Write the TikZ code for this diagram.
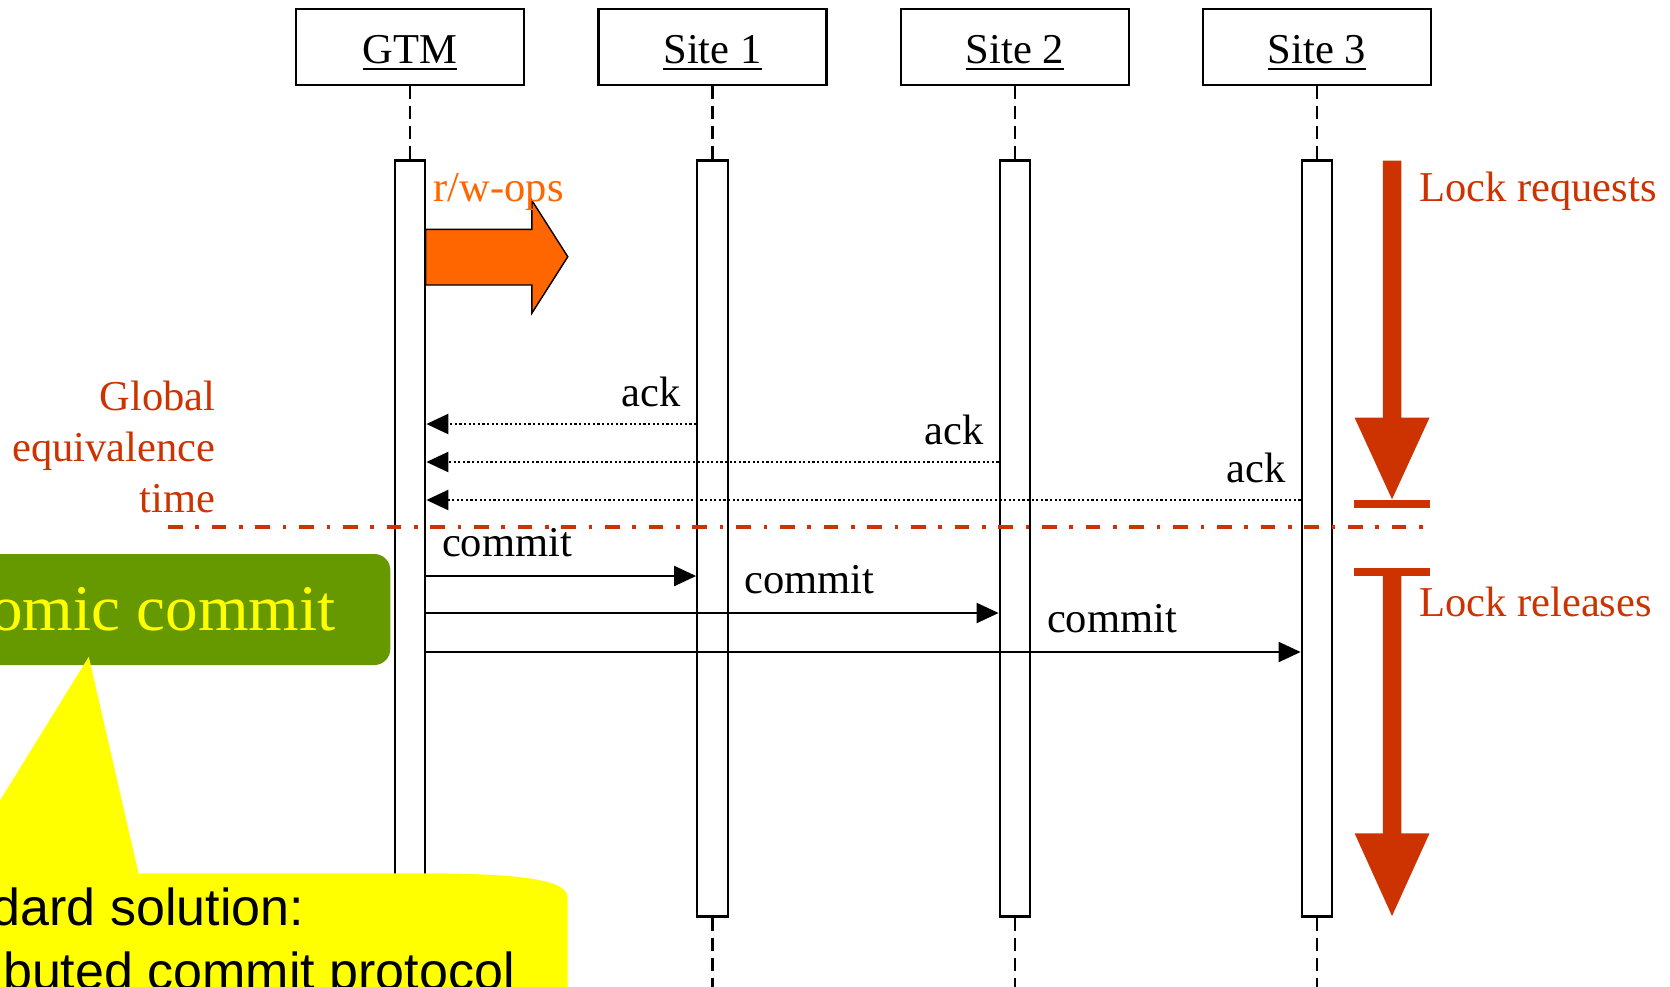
\documentclass[tikz,border=0pt]{standalone}
\usepackage{fontspec}
\setmainfont{Liberation Serif}
\setsansfont{Liberation Sans}
\usetikzlibrary{arrows.meta}
\definecolor{lockred}{HTML}{CC3300}
\definecolor{opsorange}{HTML}{FF6600}
\definecolor{commitgreen}{HTML}{669900}
\definecolor{noteyellow}{RGB}{255,255,0}
\tikzset{
  actor/.style={draw,line width=0.65pt,minimum width=22.8mm,minimum height=7.6mm,inner sep=0pt,text height=4.3mm,text depth=1mm},
  bar/.style={draw,fill=white,line width=0.65pt,minimum width=3.05mm,minimum height=75.6mm,inner sep=0pt},
  life/.style={line width=0.6pt,dash pattern=on 1.3mm off 0.7mm},
  ack/.style={line width=0.7pt,dash pattern=on 0.22mm off 0.24mm,-{Triangle[length=2.2mm,width=2mm]}},
  msg/.style={line width=0.6pt,-{Triangle[length=2.2mm,width=2mm]}},
  acklbl/.style={pos=0,anchor=base east,inner sep=0pt,xshift=-1.4mm,yshift=1.8mm},
  msglbl/.style={anchor=base west,inner sep=0pt,xshift=1.5mm,yshift=2mm},
  equiv/.style={lockred,line width=0.95pt,dash pattern=on 1.47mm off 1.27mm on 0.36mm off 1.27mm},
  lock/.style={fill=lockred},
  greenbox/.style={fill=commitgreen,rounded corners=1.6mm,text=noteyellow,font=\fontsize{18.5}{22}\selectfont,minimum height=11.1mm,inner xsep=5.5mm,inner ysep=0pt}
}
\begin{document}
\begin{tikzpicture}[x=0.1mm,y=-0.1mm,font=\fontsize{12.1}{14.5}\selectfont]
\useasboundingbox (0,0) rectangle (1670,986);
\clip (0,0) rectangle (1670,986);

\node(gtm) at (410,47)[actor]    {\underline{GTM}};
\node(s1) at (712.5,47)[actor]   {\underline{Site 1}};
\node(s2) at (1015,47)[actor]    {\underline{Site 2}};
\node(s3) at (1317,47)[actor]    {\underline{Site 3}};

\node(gbar) at (410,538.5)[bar]    {};
\node(s1bar) at (712.5,538.5)[bar] {};
\node(s2bar) at (1015,538.5)[bar]  {};
\node(s3bar) at (1317,538.5)[bar]  {};

\draw[life] (gtm) -- (gbar);
\draw[life] (s1) -- (s1bar);
\draw[life] (s2) -- (s2bar);
\draw[life] (s3) -- (s3bar);
\draw[life] (gbar) -- (gbar.south |- 0,990);
\draw[life] (s1bar) -- (s1bar.south |- 0,990);
\draw[life] (s2bar) -- (s2bar.south |- 0,990);
\draw[life] (s3bar) -- (s3bar.south |- 0,990);

% r/w operations
\filldraw[fill=opsorange,draw=black,line width=0.4pt]
  (425.6,229.3) -- (531.8,229.3) -- (531.8,200.3) -- (567.8,256.7)
  -- (531.8,313.3) -- (531.8,285) -- (425.6,285) -- cycle;
\node(rw) at (433,201.7)[anchor=base west,inner sep=0pt,text=opsorange] {r/w-ops};

\path [ack]
  (s1bar.west |- 0,424) edge node(ack1)[acklbl] {ack} (gbar.east |- 0,424)
  (s2bar.west |- 0,462) edge node(ack2)[acklbl] {ack} (gbar.east |- 0,462)
  (s3bar.west |- 0,500) edge node(ack3)[acklbl] {ack} (gbar.east |- 0,500);

\coordinate(eqL) at (168,527);
\coordinate(eqR) at (1433,527);
\draw[equiv] (eqL) -- (eqR);

\path [msg]
  (gbar.east |- 0,576) edge (s1bar.west |- 0,576)
  (gbar.east |- 0,613) edge (s2bar.west |- 0,613)
  (gbar.east |- 0,652) edge (s3bar.west |- 0,652);
\node(c1) at (gbar.east |- 0,576)[msglbl]  {commit};
\node(c2) at (s1bar.east |- 0,613)[msglbl] {commit};
\node(c3) at (s2bar.east |- 0,652)[msglbl] {commit};

\node(get) at (216,512)[anchor=base east,align=right,inner sep=0pt,text=lockred] {Global\\equivalence\\time};

% locks
\fill[lock] (1382.8,160.7) -- (1401.4,160.7) -- (1401.4,417.7) -- (1429.5,417.7)
  -- (1392,499.3) -- (1354.6,417.7) -- (1382.8,417.7) -- cycle;
\fill[lock] (1354,500) rectangle (1429.5,507.7);
\fill[lock] (1354,568.3) rectangle (1429.5,575.7);
\fill[lock] (1382.8,575.7) -- (1401.4,575.7) -- (1401.4,833.3) -- (1429.5,833.3)
  -- (1392,916) -- (1354.6,833.3) -- (1382.8,833.3) -- cycle;
\node(lreq) at (1418.6,201.7)[anchor=base west,inner sep=0pt,text=lockred] {Lock requests};
\node(lrel) at (1418.6,616.7)[anchor=base west,inner sep=0pt,text=lockred] {Lock releases};

\node(atomic) at (391,609.5)[greenbox,anchor=east] {Atomic commit};

% callout
\fill[noteyellow] (-200,1100) -- (-200,873.3) -- (-45,873.3) -- (88.8,656.7) -- (138.5,873.3)
  -- (421,873.3) .. controls (521,873.3) and (567.5,880) .. (567.5,897) -- (567.5,1100) -- cycle;
\node(std) at (-116,989)[anchor=base west,align=left,inner sep=0pt,font=\sffamily\fontsize{14.8}{18.2}\selectfont] {Standard solution:\\Distributed commit protocol};

\end{tikzpicture}
\end{document}
